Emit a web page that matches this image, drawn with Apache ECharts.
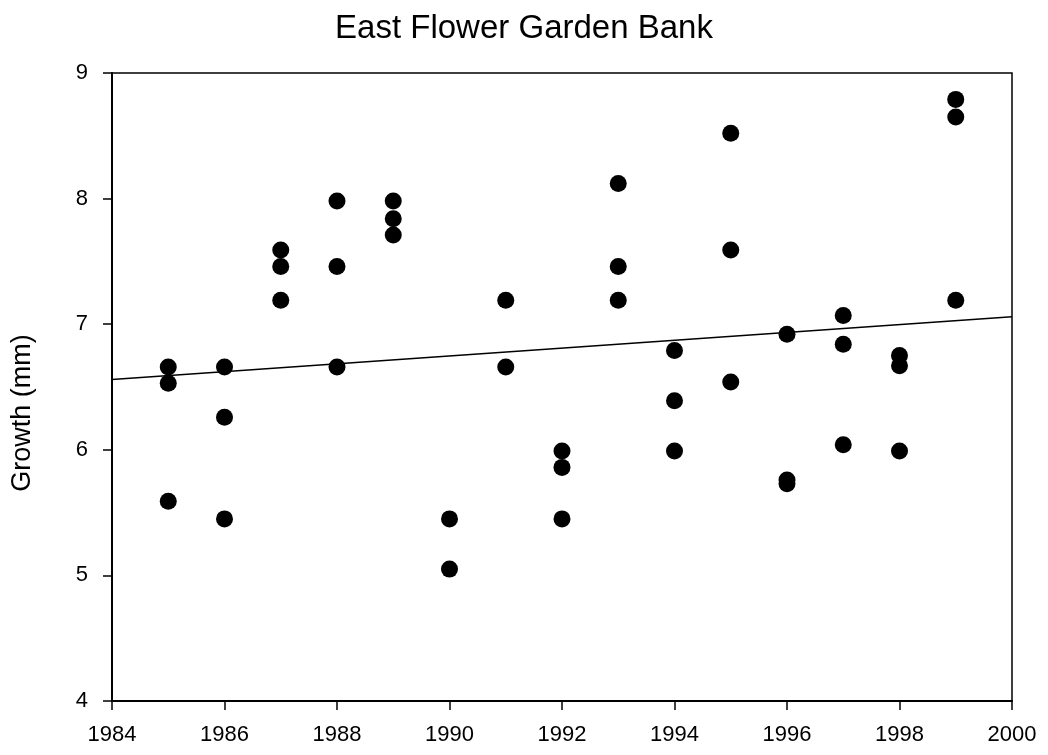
<!DOCTYPE html>
<html>
<head>
<meta charset="utf-8">
<script src="https://cdn.jsdelivr.net/npm/echarts@6/dist/echarts.min.js"></script>
<style>
  html, body { margin: 0; padding: 0; background: #fff; }
  #chart { width: 1048px; height: 755px; }
</style>
</head>
<body>
<div id="chart"></div>
<script>
// Annual coral growth measurements, East Flower Garden Bank
const years = [
  1985, 1985, 1985,
  1986, 1986, 1986,
  1987, 1987, 1987,
  1988, 1988, 1988,
  1989, 1989, 1989,
  1990, 1990,
  1991, 1991,
  1992, 1992, 1992,
  1993, 1993, 1993,
  1994, 1994, 1994,
  1995, 1995, 1995,
  1996, 1996, 1996,
  1997, 1997, 1997,
  1998, 1998, 1998,
  1999, 1999, 1999
];
const growth = [
  6.66, 6.53, 5.59,
  6.66, 6.26, 5.45,
  7.59, 7.46, 7.19,
  7.98, 7.46, 6.66,
  7.98, 7.84, 7.71,
  5.45, 5.05,
  7.19, 6.66,
  5.99, 5.86, 5.45,
  8.12, 7.46, 7.19,
  6.79, 6.39, 5.99,
  8.52, 7.59, 6.54,
  6.92, 5.76, 5.73,
  7.07, 6.84, 6.04,
  6.75, 6.67, 5.99,
  8.79, 8.65, 7.19
];
// Linear trend line endpoints
const trendYears = [1984, 2000];
const trendValues = [6.56, 7.06];

const xTicks = [1984, 1986, 1988, 1990, 1992, 1994, 1996, 1998, 2000];
const yTicks = [4, 5, 6, 7, 8, 9];

const points = years.map((y, i) => [y, growth[i]]);
const trend = trendYears.map((y, i) => [y, trendValues[i]]);

const chart = echarts.init(document.getElementById('chart'));
const font = 'Liberation Sans, Arial, sans-serif';

chart.setOption({
  animation: false,
  backgroundColor: '#ffffff',
  title: {
    text: 'East Flower Garden Bank',
    left: 'center',
    top: 7,
    textStyle: { fontFamily: font, fontSize: 33, fontWeight: 'normal', color: '#000' }
  },
  grid: {
    left: 112, right: 36, top: 73, bottom: 54,
    show: true, borderColor: '#000', borderWidth: 1.5, backgroundColor: '#fff'
  },
  xAxis: {
    type: 'value',
    min: xTicks[0], max: xTicks[xTicks.length - 1], interval: 2,
    splitLine: { show: false },
    axisLine: { show: true, lineStyle: { color: '#000', width: 2 } },
    axisTick: { show: true, length: 9, lineStyle: { color: '#000', width: 1.5 } },
    axisLabel: {
      fontFamily: font, fontSize: 22, color: '#000', margin: 23,
      formatter: v => String(v)
    }
  },
  yAxis: {
    type: 'value',
    min: yTicks[0], max: yTicks[yTicks.length - 1], interval: 1,
    name: 'Growth (mm)',
    nameLocation: 'middle',
    nameGap: 76,
    nameTextStyle: { fontFamily: font, fontSize: 27, color: '#000', padding: [0, 52, 0, 0] },
    splitLine: { show: false },
    axisLine: { show: true, lineStyle: { color: '#000', width: 2 } },
    axisTick: { show: true, length: 9, lineStyle: { color: '#000', width: 1.5 } },
    axisLabel: { fontFamily: font, fontSize: 22, color: '#000', margin: 24 }
  },
  series: [
    {
      type: 'line',
      data: trend,
      symbol: 'none',
      lineStyle: { color: '#000', width: 1.5 },
      z: 1
    },
    {
      type: 'scatter',
      data: points,
      symbol: 'circle',
      symbolSize: 17,
      itemStyle: { color: '#000', opacity: 1 },
      z: 2
    }
  ]
});
</script>
</body>
</html>
